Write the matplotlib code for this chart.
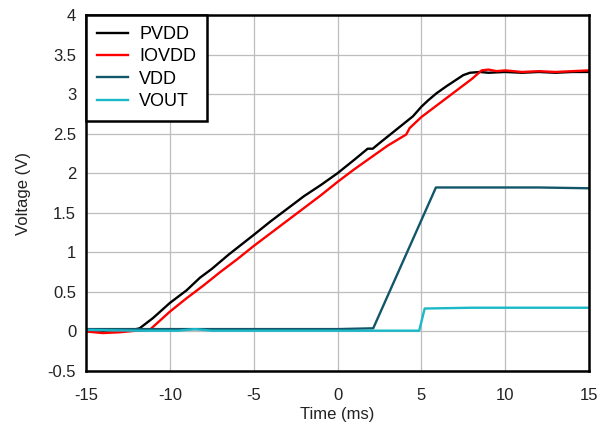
import matplotlib.pyplot as plt

plt.rcParams['font.family'] = ['Liberation Sans', 'DejaVu Sans']

# PVDD trace (ms, V)
pvdd_t = [-15, -14, -13, -12.2, -11.8, -11, -10, -9, -8.2, -7.5, -6.5, -5, -4, -3, -2, -1,
          0, 1, 1.8, 2.1, 2.5, 3.5, 4.5, 5, 5.4, 5.9, 6.5, 7, 7.5, 7.9, 8.5, 9, 10, 11, 12, 13, 14, 15]
pvdd_v = [0.02, 0.01, 0.02, 0.02, 0.04, 0.17, 0.36, 0.52, 0.68, 0.79, 0.97, 1.22, 1.39, 1.55, 1.71, 1.85,
          2.0, 2.17, 2.31, 2.31, 2.38, 2.55, 2.72, 2.84, 2.92, 3.01, 3.1, 3.17, 3.24, 3.27, 3.28, 3.27,
          3.28, 3.27, 3.28, 3.27, 3.28, 3.28]

# IOVDD trace
iovdd_t = [-15, -14, -13, -12, -11.2, -10, -9, -8, -7, -6, -5, -4, -3, -2, -1, 0, 1, 2, 3,
           4.1, 4.3, 5, 6, 7, 8, 8.6, 9, 9.5, 10, 11, 12, 13, 14, 15]
iovdd_v = [0.0, -0.02, -0.01, 0.01, 0.02, 0.25, 0.42, 0.58, 0.75, 0.91, 1.08, 1.24, 1.4, 1.56, 1.72, 1.89,
           2.05, 2.2, 2.35, 2.49, 2.57, 2.71, 2.87, 3.03, 3.19, 3.3, 3.31, 3.29, 3.3, 3.28, 3.29, 3.28, 3.29, 3.3]

# VDD trace
vdd_t = [-15, -10, -5, 0, 2.13, 5.87, 8, 10, 12, 15]
vdd_v = [0.03, 0.03, 0.03, 0.03, 0.04, 1.82, 1.82, 1.82, 1.82, 1.81]

# VOUT trace
vout_t = [-15, -12, -9.5, -8.5, -7.5, -5, 0, 4.87, 5.2, 8, 10, 15]
vout_v = [0.02, 0.01, 0.01, 0.03, 0.01, 0.01, 0.01, 0.01, 0.29, 0.3, 0.3, 0.3]

fig = plt.figure(figsize=(6.08, 4.25), dpi=100)
ax = fig.add_axes([0.1414, 0.127, 0.8274, 0.8377])

ax.plot(pvdd_t, pvdd_v, color='black', linewidth=1.7, label='PVDD')
ax.plot(iovdd_t, iovdd_v, color='#ff0000', linewidth=1.7, label='IOVDD')
ax.plot(vdd_t, vdd_v, color='#13566a', linewidth=1.7, label='VDD')
ax.plot(vout_t, vout_v, color='#1ab8c9', linewidth=1.7, label='VOUT')

ax.set_xlim(-15, 15)
ax.set_ylim(-0.5, 4)
ax.set_xticks([-15, -10, -5, 0, 5, 10, 15])
ax.set_yticks([-0.5, 0, 0.5, 1, 1.5, 2, 2.5, 3, 3.5, 4])
ax.set_yticklabels(['-0.5', '0', '0.5', '1', '1.5', '2', '2.5', '3', '3.5', '4'])
ax.set_xticklabels(['-15', '-10', '-5', '0', '5', '10', '15'])
ax.tick_params(axis='both', length=0, labelsize=12, colors='#222222')
ax.tick_params(axis='x', pad=12)
ax.tick_params(axis='y', pad=7)

ax.grid(True, color='#bdbdbd', linewidth=0.9)
ax.set_axisbelow(True)
for s in ax.spines.values():
    s.set_linewidth(1.8)
    s.set_color('black')

ax.set_xlabel('Time (ms)', fontsize=12, labelpad=3, color='#222222')
ax.set_ylabel('Voltage (V)', fontsize=12, labelpad=12, color='#222222')

leg = ax.legend(loc='upper left', bbox_to_anchor=(0, 1), borderaxespad=0, fontsize=13,
                fancybox=False, handlelength=1.75, labelspacing=0.3, framealpha=1,
                borderpad=0.6, handletextpad=0.6)
leg.get_frame().set_edgecolor('black')
leg.get_frame().set_linewidth(1.8)

fig.savefig('out.png', dpi=100)
